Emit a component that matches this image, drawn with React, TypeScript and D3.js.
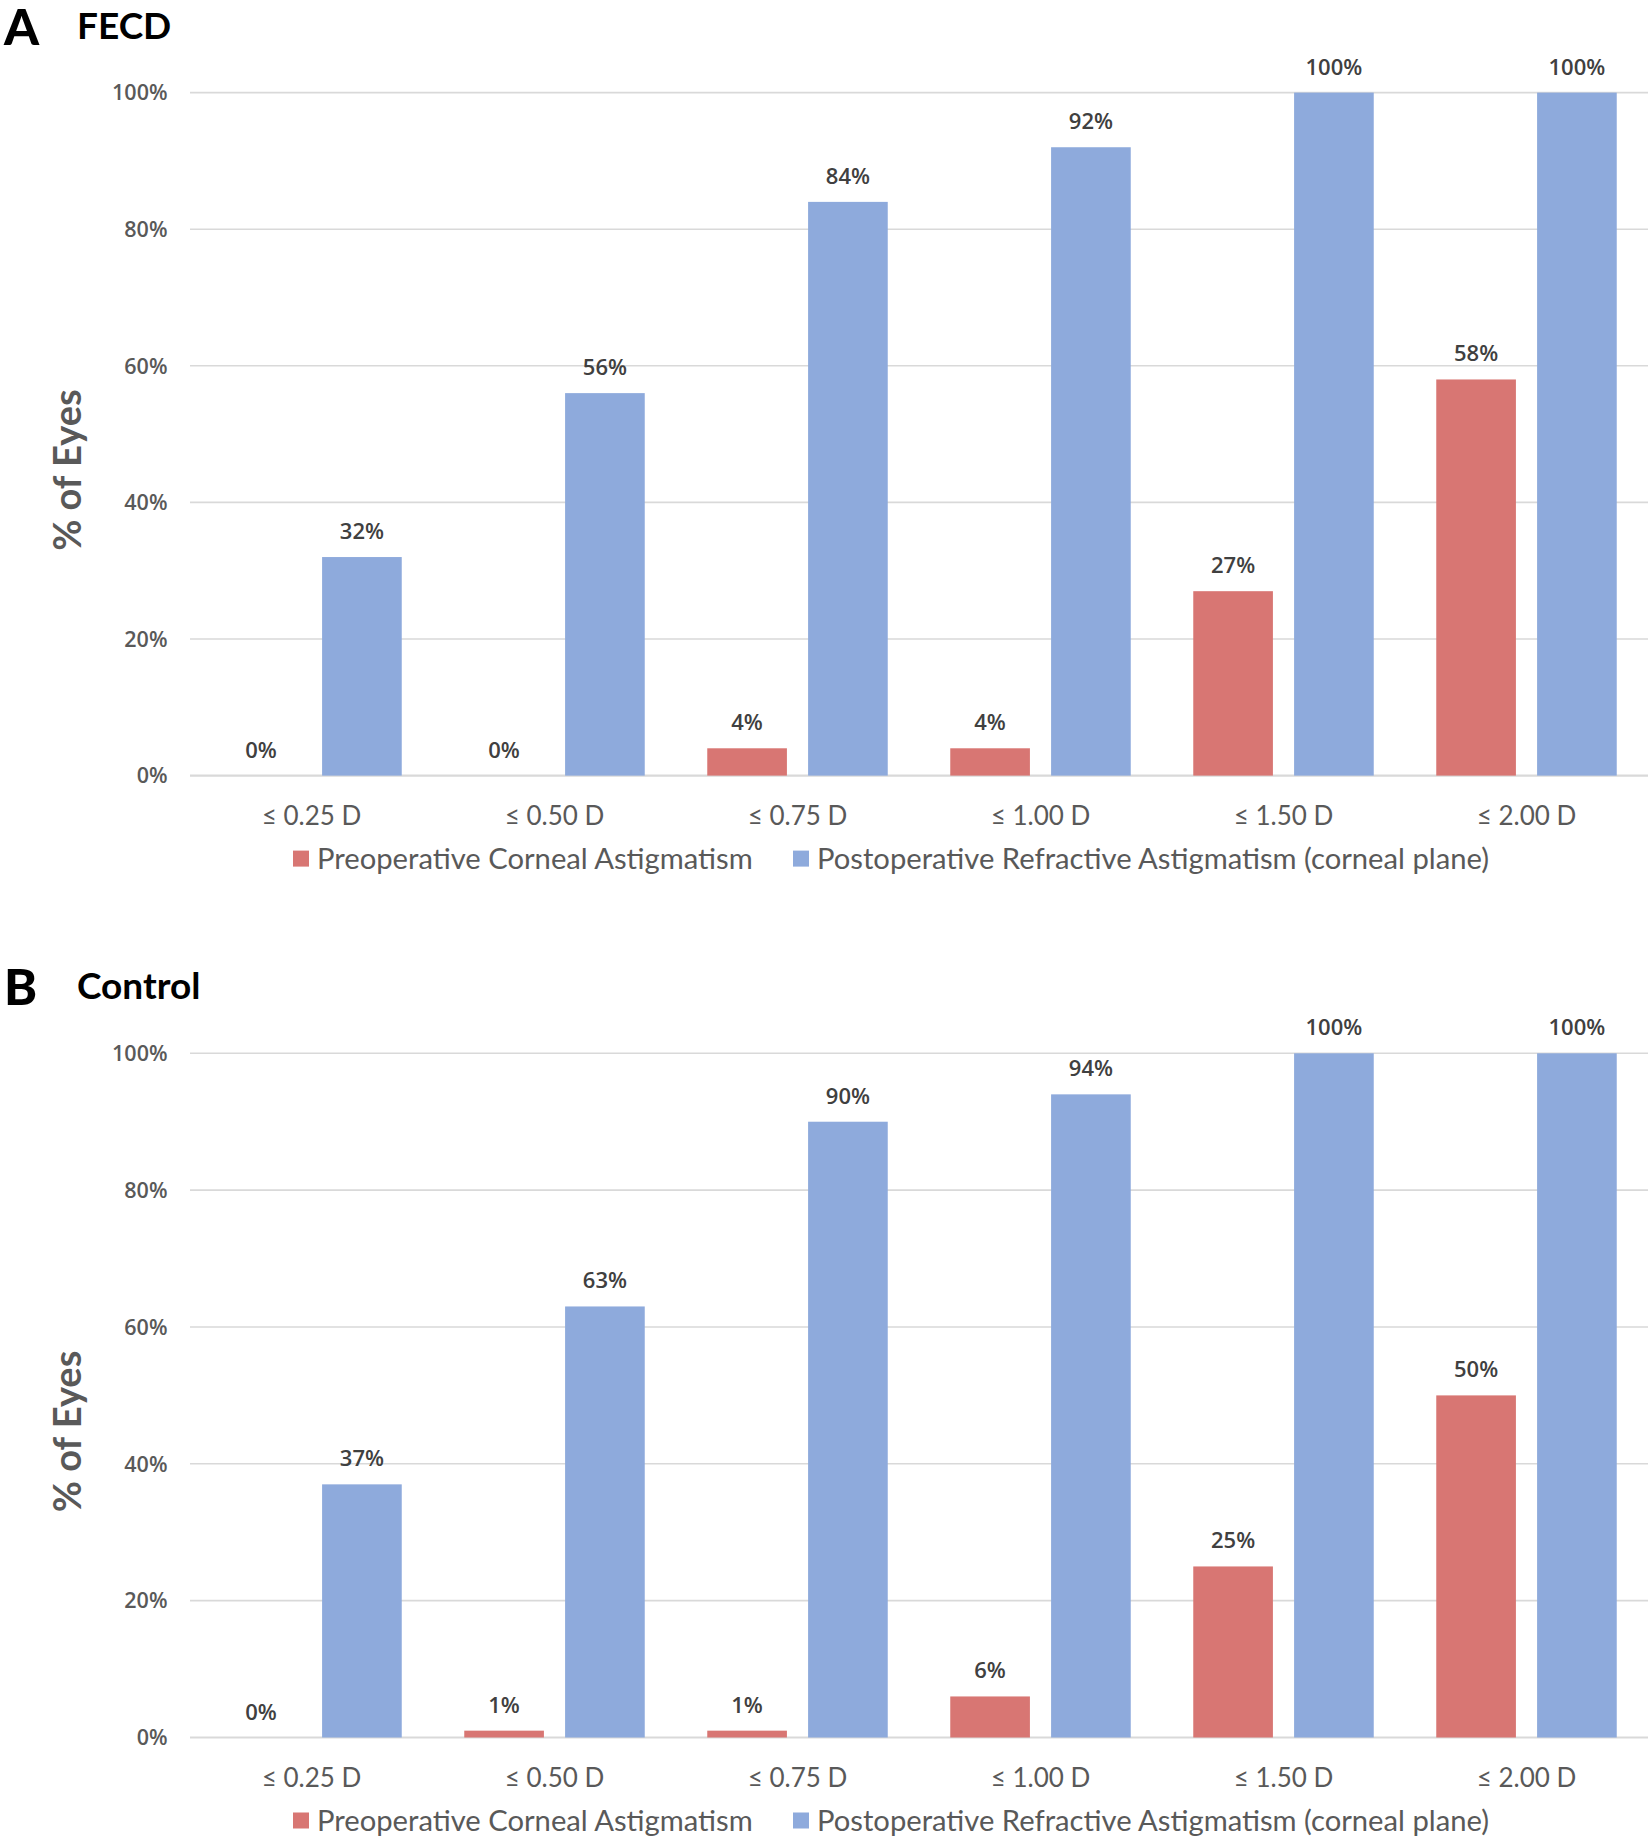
import React, { useEffect, useRef } from "react";
import * as d3 from "d3";

const categories = ["≤ 0.25 D", "≤ 0.50 D", "≤ 0.75 D", "≤ 1.00 D", "≤ 1.50 D", "≤ 2.00 D"];
const seriesNames = [
  "Preoperative Corneal Astigmatism",
  "Postoperative Refractive Astigmatism (corneal plane)",
];
const fecdPre = [0, 0, 4, 4, 27, 58];
const fecdPost = [32, 56, 84, 92, 100, 100];
const controlPre = [0, 1, 1, 6, 25, 50];
const controlPost = [37, 63, 90, 94, 100, 100];
const yTicks = [0, 20, 40, 60, 80, 100];
const colors = ["#d87673", "#8eaadc"];

const WIDTH = 1652;
const HEIGHT = 1840;
const LABEL_FONT = "Lato, 'Open Sans', sans-serif";
const NUM_FONT = "'Open Sans', 'Noto Sans', sans-serif";

interface PanelSpec {
  letter: string;
  title: string;
  pre: number[];
  post: number[];
  top: number; // y of 100%
  bottom: number; // y of 0%
}

const panels: PanelSpec[] = [
  { letter: "A", title: "FECD", pre: fecdPre, post: fecdPost, top: 92.6, bottom: 775.6 },
  { letter: "B", title: "Control", pre: controlPre, post: controlPost, top: 1053.3, bottom: 1737.5 },
];

function drawPanel(root: d3.Selection<SVGGElement, unknown, null, undefined>, p: PanelSpec) {
  const left = 190;
  const right = 1648;

  const x = d3.scaleBand<string>().domain(categories).range([left, right]).padding(0);
  const x1 = d3
    .scaleBand<number>()
    .domain([0, 1])
    .range([0, x.bandwidth()])
    .paddingInner(0.21)
    .paddingOuter(0.31);
  const y = d3.scaleLinear().domain([0, 100]).range([p.bottom, p.top]);

  const g = root.append("g");

  // panel letter + title
  g.append("text")
    .attr("x", 4)
    .attr("y", p.top - 48)
    .attr("font-family", LABEL_FONT)
    .attr("font-weight", 900)
    .attr("font-size", 50)
    .attr("fill", "#000")
    .text(p.letter);
  g.append("text")
    .attr("x", 77)
    .attr("y", p.top - 54)
    .attr("font-family", LABEL_FONT)
    .attr("font-weight", 700)
    .attr("font-size", 37)
    .attr("fill", "#000")
    .text(p.title);

  // gridlines
  g.append("g")
    .selectAll("line")
    .data(yTicks)
    .join("line")
    .attr("x1", left)
    .attr("x2", right)
    .attr("y1", (d) => y(d))
    .attr("y2", (d) => y(d))
    .attr("stroke", "#d9d9d9")
    .attr("stroke-width", (d) => (d === 0 ? 2.2 : 1.6));

  // y tick labels
  g.append("g")
    .selectAll("text")
    .data(yTicks)
    .join("text")
    .attr("x", 167.5)
    .attr("y", (d) => y(d))
    .attr("dy", "0.36em")
    .attr("text-anchor", "end")
    .attr("font-family", NUM_FONT)
    .attr("font-weight", 600)
    .attr("font-size", 21.5)
    .attr("fill", "#595959")
    .text((d) => `${d}%`);

  // y axis title
  const cy = (p.top + p.bottom) / 2 + 36;
  g.append("text")
    .attr("transform", `translate(68,${cy}) rotate(-90)`)
    .attr("text-anchor", "middle")
    .attr("dy", "0.35em")
    .attr("font-family", LABEL_FONT)
    .attr("font-weight", 700)
    .attr("font-size", 38)
    .attr("fill", "#595959")
    .text("% of Eyes");

  // bars
  const series = [p.pre, p.post];
  series.forEach((vals, si) => {
    const bars = g.append("g");
    bars
      .selectAll("rect")
      .data(vals)
      .join("rect")
      .attr("x", (_, i) => (x(categories[i]) ?? 0) + (x1(si) ?? 0))
      .attr("width", x1.bandwidth())
      .attr("y", (d) => y(d))
      .attr("height", (d) => y(0) - y(d))
      .attr("fill", colors[si]);
    bars
      .selectAll("text")
      .data(vals)
      .join("text")
      .attr("x", (_, i) => (x(categories[i]) ?? 0) + (x1(si) ?? 0) + x1.bandwidth() / 2)
      .attr("y", (d) => y(d) - 18)
      .attr("text-anchor", "middle")
      .attr("font-family", NUM_FONT)
      .attr("font-weight", 600)
      .attr("font-size", 22)
      .attr("fill", "#404040")
      .text((d) => `${d}%`);
  });

  // x labels
  g.append("g")
    .selectAll("text")
    .data(categories)
    .join("text")
    .attr("x", (d) => (x(d) ?? 0) + x.bandwidth() / 2)
    .attr("y", p.bottom + 40)
    .attr("dy", "0.36em")
    .attr("text-anchor", "middle")
    .attr("font-family", LABEL_FONT)
    .attr("font-size", 26)
    .attr("fill", "#595959")
    .text((d) => d);

  // legend
  const ly = p.bottom + 83;
  const legendX = [293, 793];
  const leg = g
    .append("g")
    .selectAll("g")
    .data(seriesNames)
    .join("g")
    .attr("transform", (_, i) => `translate(${legendX[i]},${ly})`);
  leg
    .append("rect")
    .attr("x", 0)
    .attr("y", -8)
    .attr("width", 16)
    .attr("height", 16)
    .attr("fill", (_, i) => colors[i]);
  leg
    .append("text")
    .attr("x", 24)
    .attr("y", 0)
    .attr("dy", "0.36em")
    .attr("font-family", LABEL_FONT)
    .attr("font-size", 29.2)
    .attr("fill", "#595959")
    .text((d) => d);
}

export default function App() {
  const svgRef = useRef<SVGSVGElement>(null);

  useEffect(() => {
    if (!svgRef.current) return;
    const svg = d3.select(svgRef.current);
    svg.selectAll("*").remove();
    const root = svg.append("g");
    panels.forEach((p) => drawPanel(root, p));
  }, []);

  return (
    <svg
      ref={svgRef}
      width={WIDTH}
      height={HEIGHT}
      style={{ position: "absolute", left: 0, top: 0, background: "#fff" }}
    />
  );
}
